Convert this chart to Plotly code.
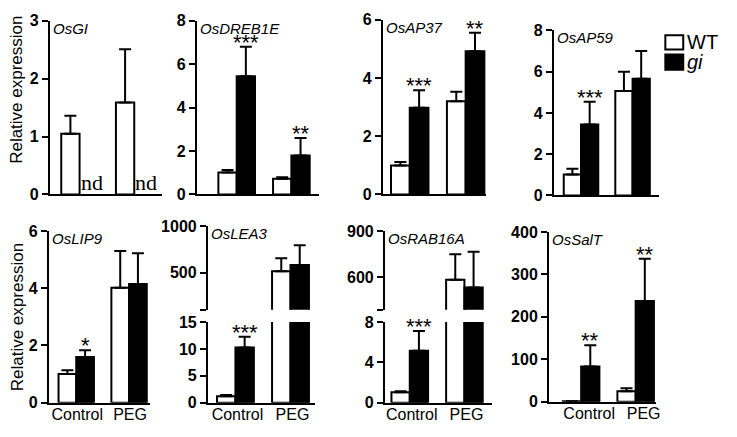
import plotly.graph_objects as go

# the page body keeps an 8px margin on every side: the figure sits at (8, 8)
# and is sized so that the page never needs to scroll
PAGE_OFF = 8
W, H = 737 - 2 * PAGE_OFF, 437 - 2 * PAGE_OFF

conditions = ["Control", "PEG"]
genes = ["OsGI", "OsDREB1E", "OsAP37", "OsAP59", "OsLIP9", "OsLEA3", "OsRAB16A", "OsSalT"]

# mean relative expression per gene, [Control, PEG]
wt_mean = [[1.05, 1.59], [1.01, 0.72], [1.0, 3.2], [1.02, 5.06],
           [1.0, 4.02], [1.2, 515], [1.05, 583], [1.0, 25]]
wt_err = [[0.31, 0.92], [0.12, 0.07], [0.12, 0.33], [0.27, 0.94],
          [0.13, 1.28], [0.25, 140], [0.08, 166], [0.3, 7]]
gi_mean = [[None, None], [5.45, 1.8], [2.98, 4.92], [3.44, 5.65],
           [1.6, 4.15], [10.3, 580], [5.17, 534], [83, 237]]
gi_err = [[None, None], [1.35, 0.8], [0.6, 0.64], [1.1, 1.35],
          [0.23, 1.07], [2.0, 215], [1.95, 232], [50, 100]]
stars = [["", ""], ["***", "**"], ["***", "**"], ["***", ""],
         ["*", ""], ["***", ""], ["***", ""], ["**", "**"]]

FONT = "Liberation Sans, Arial"
BARGAP = 0.33
w = (1 - BARGAP) / 2


def fx(p):
    return (p - PAGE_OFF) / W


def fy(p):
    return 1 - (p - PAGE_OFF) / H


# layout geometry in screen pixels: axis left/right, x range, label shift
panel_x = [(50, 163), (198, 321), (385, 489), (557, 663),
           (49, 151), (209, 317), (387, 495), (552, 660)]
panel_xrange = [(-0.545, 1.51), (-0.727, 1.51), (-0.48, 1.37), (-0.525, 1.52),
                (-0.52, 1.4), (-0.5, 1.45), (-0.455, 1.51), (-0.59, 1.38)]
label_shift = [0, 0, 0, 0, 1, 2, 2, 8]
# y segments: (top px, bottom px, range, tickvals, ticktext)
panel_y = [
    [(13, 194, [0, 3], [0, 1, 2, 3], None)],
    [(13, 194, [0, 8], [0, 2, 4, 6, 8], None)],
    [(12, 194, [0, 6], [0, 2, 4, 6], None)],
    [(23, 195, [0, 8], [0, 2, 4, 6, 8], None)],
    [(232, 411, [0, 6], [0, 2, 4, 6], None)],
    [(327, 411, [0, 15], [0, 5, 10, 15], None),
     (227, 314, [100, 1000], [100, 500, 1000], ["", "500", "1000"])],
    [(327, 411, [0, 8], [0, 4, 8], None),
     (232, 314, [390, 900], [390, 600, 900], ["", "600", "900"])],
    [(233, 410, [0, 400], [0, 100, 200, 300, 400], None)],
]

fig = go.Figure()
layout = {}
annotations = []
extra_y = 9

for p, gene in enumerate(genes):
    xid = p + 1
    xl, xr = panel_x[p]
    segs = panel_y[p]
    yids = []
    for s, (top, bot, yr, tv, tt) in enumerate(segs):
        yid = xid if s == 0 else extra_y
        if s > 0:
            extra_y += 1
        yids.append(yid)
        labels = tt if tt else [str(v) for v in tv]
        layout["yaxis" if yid == 1 else f"yaxis{yid}"] = dict(
            domain=[fy(bot), fy(top)], range=yr, anchor="x" if xid == 1 else f"x{xid}",
            tickvals=tv, ticktext=[f"<b>{t}</b>" if t else "" for t in labels],
            ticks="outside", ticklen=6, tickwidth=2, tickcolor="black",
            showline=True, linewidth=2, linecolor="black", showgrid=False, zeroline=False,
            tickfont=dict(family=FONT, size=16, color="black"),
        )
        for name, mean, err, fill in [("WT", wt_mean[p], wt_err[p], "white"),
                                      ("gi", gi_mean[p], gi_err[p], "black")]:
            fig.add_trace(go.Bar(
                x=conditions, y=mean, name=name, showlegend=False,
                marker=dict(color=fill, line=dict(color="black", width=2)),
                error_y=dict(type="data", symmetric=False, array=err,
                             arrayminus=[0, 0], color="black", thickness=2, width=6),
                xaxis="x" if xid == 1 else f"x{xid}",
                yaxis="y" if yid == 1 else f"y{yid}",
            ))
    layout["xaxis" if xid == 1 else f"xaxis{xid}"] = dict(
        domain=[fx(xl), fx(xr)], range=list(panel_xrange[p]),
        anchor="y" if yids[0] == 1 else f"y{yids[0]}",
        showline=True, linewidth=2, linecolor="black", ticks="",
        showticklabels=p >= 4, showgrid=False, zeroline=False,
        ticklabelstandoff=-4, ticklabelshift=label_shift[p],
        tickfont=dict(family=FONT, size=16, color="black"),
    )
    xref = "x" if xid == 1 else f"x{xid}"
    ylow = "y" if yids[0] == 1 else f"y{yids[0]}"
    ytop = "y" if yids[-1] == 1 else f"y{yids[-1]}"
    # gene name
    annotations.append(dict(
        text=gene, xref=f"{xref} domain", yref=f"{ytop} domain", x=0, y=1,
        xanchor="left", yanchor="top", xshift=1, yshift=3, showarrow=False,
        font=dict(family=FONT, size=15, color="black", style="italic")))
    for i in range(2):
        if gi_mean[p][i] is None:
            annotations.append(dict(
                text="nd", xref=xref, yref=ylow, x=i + w / 2, y=0,
                xanchor="center", yanchor="bottom", xshift=3, yshift=-3, showarrow=False,
                font=dict(family="Liberation Serif", size=22, color="black")))
        if stars[p][i]:
            annotations.append(dict(
                text=stars[p][i], xref=xref, yref=ylow, x=i + w / 2,
                y=gi_mean[p][i] + gi_err[p][i],
                xanchor="center", yanchor="bottom", yshift=-10, showarrow=False,
                font=dict(family=FONT, size=22, color="black")))

# y-axis titles
for yc in [85, 322]:
    annotations.append(dict(
        text="Relative expression", xref="paper", yref="paper", x=fx(17), y=fy(yc),
        textangle=-90, showarrow=False, xanchor="center", yanchor="middle",
        font=dict(family=FONT, size=17, color="black")))

# legend
shapes = []
for (y0, y1, fill, label, style) in [(28, 43, "white", "WT", "normal"),
                                     (48, 64, "black", "gi", "italic")]:
    shapes.append(dict(type="rect", xref="paper", yref="paper",
                       x0=fx(669), x1=fx(687), y0=fy(y1), y1=fy(y0),
                       fillcolor=fill, line=dict(color="black", width=2)))
    annotations.append(dict(
        text=label, xref="paper", yref="paper", x=fx(689), y=fy((y0 + y1) / 2),
        xanchor="left", yanchor="middle", showarrow=False,
        font=dict(family=FONT, size=20, color="black", style=style)))

fig.update_layout(
    **layout,
    barmode="group", bargap=BARGAP, bargroupgap=0,
    width=W, height=H, margin=dict(l=0, r=0, t=0, b=0),
    paper_bgcolor="white", plot_bgcolor="white",
    annotations=annotations, shapes=shapes, showlegend=False,
)

fig.write_html("out.html")
